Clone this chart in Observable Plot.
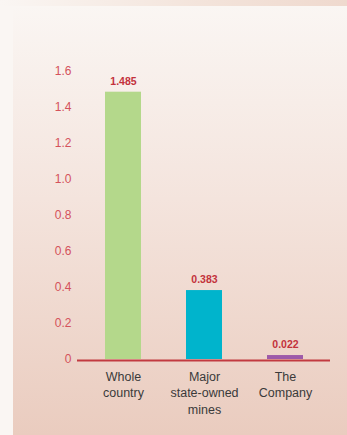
<!DOCTYPE html>
<html><head><meta charset="utf-8">
<script src="https://cdn.jsdelivr.net/npm/d3@7"></script>
<script src="https://cdn.jsdelivr.net/npm/@observablehq/plot@0.6"></script>
<style>
html,body{margin:0;padding:0;}
body{width:347px;height:435px;position:relative;overflow:hidden;background:#faf6f3;font-family:"Liberation Sans",Arial,sans-serif;}
#topband{position:absolute;left:0;top:0;width:347px;height:6px;background:linear-gradient(to right,#faf6f3 0%,#f3e3da 60%,#efd9ce 100%);}
#panel{position:absolute;left:13px;top:6px;width:334px;height:429px;background:linear-gradient(to bottom,#faf6f3 0%,#f4e4dd 45%,#eaccbf 100%);}
#chart{position:absolute;left:0;top:0;}
</style></head><body>
<div id="topband"></div><div id="panel"></div>
<div id="chart"></div>
<script>
const categories = ["Whole\ncountry", "Major\nstate-owned\nmines", "The\nCompany"];
const values = [1.485, 0.383, 0.022];
const labels = ["1.485", "0.383", "0.022"];
const colors = ["#b4d88b", "#00b4cc", "#9d5aa9"];
const yTicks = [0, 0.2, 0.4, 0.6, 0.8, 1.0, 1.2, 1.4, 1.6];

const data = categories.map((c, i) => ({cat: c, value: values[i], label: labels[i], color: colors[i]}));

const chart = Plot.plot({
  width: 347,
  height: 435,
  marginLeft: 77,
  marginRight: 17,
  marginTop: 71,
  marginBottom: 76,
  style: {background: "transparent", fontFamily: "Liberation Sans, Arial, sans-serif"},
  x: {domain: categories, range: [81.25, 325.75], paddingInner: 0.558, paddingOuter: 0.279, axis: null},
  y: {domain: [0, 1.6], axis: null},
  marks: [
    Plot.barY(data, {x: "cat", y: "value", fill: "color"}),
    Plot.ruleY([0], {stroke: "#c23a40", strokeWidth: 2, dy: 1}),
    Plot.axisY({ticks: yTicks, tickFormat: d => d === 0 ? "0" : d.toFixed(1), tickSize: 0, tickPadding: 6, fill: "#d4525b", fontSize: 12, label: null}),
    Plot.text(data, {x: "cat", y: "value", text: "label", dy: -11, fill: "#c3323c", fontSize: 10.5, fontWeight: "bold"}),
    Plot.text(data, {x: "cat", y: 0, text: "cat", lineAnchor: "top", dy: 10, fill: "#3a3a3a", fontSize: 12.5, lineHeight: 1.3})
  ]
});
document.getElementById("chart").appendChild(chart);
</script>
</body></html>
